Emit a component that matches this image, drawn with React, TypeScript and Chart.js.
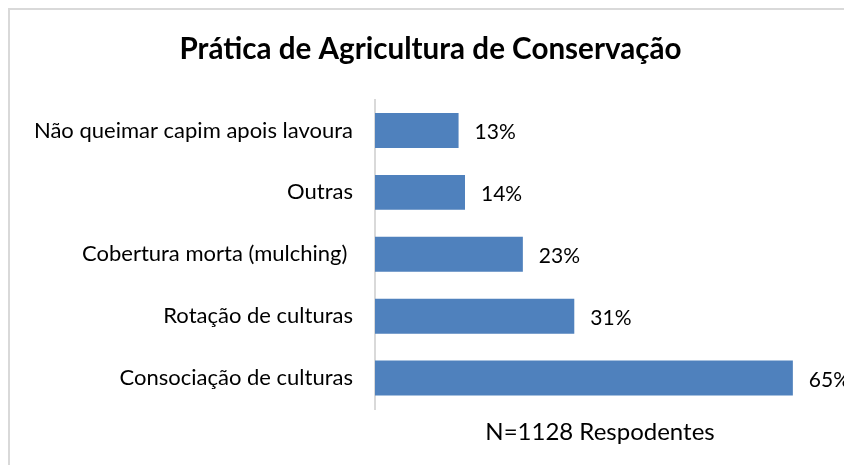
import React, { useEffect, useRef } from "react";
import { Chart, registerables } from "chart.js";

Chart.register(...registerables);

const categories = [
  "Não queimar capim apois lavoura",
  "Outras",
  "Cobertura morta (mulching) ",
  "Rotação de culturas",
  "Consociação de culturas",
];
const values = [13, 14, 23, 31, 65];
const titleText = "Prática de Agricultura de Conservação";
const xTitle = "N=1128 Respodentes";

const FONT = "Lato, 'Open Sans', sans-serif";

const valueLabels = {
  id: "valueLabels",
  afterDatasetsDraw(chart: any) {
    const ctx = chart.ctx;
    const meta = chart.getDatasetMeta(0);
    ctx.save();
    ctx.font = `21px ${FONT}`;
    ctx.fillStyle = "#000";
    ctx.textAlign = "left";
    ctx.textBaseline = "middle";
    meta.data.forEach((bar: any, i: number) => {
      ctx.fillText(values[i] + "%", bar.x + 16, bar.y + 2);
    });
    ctx.restore();
  },
};

export default function App() {
  const ref = useRef<HTMLCanvasElement>(null);
  useEffect(() => {
    document.documentElement.style.overflow = "hidden";
    document.body.style.margin = "0";
    if (!ref.current) return;
    const chart = new Chart(ref.current, {
      type: "bar",
      data: {
        labels: categories,
        datasets: [
          {
            data: values,
            backgroundColor: "#4F81BD",
            barPercentage: 0.565,
            categoryPercentage: 1,
          },
        ],
      },
      options: {
        indexAxis: "y",
        animation: false,
        responsive: false,
        layout: { padding: { left: 0, right: 5, top: 0, bottom: 0 } },
        plugins: {
          legend: { display: false },
          tooltip: { enabled: false },
          title: {
            display: true,
            text: titleText,
            color: "#000",
            font: { family: FONT, size: 29.6, weight: "bold" },
            padding: { top: 22, bottom: 32 },
          },
        },
        scales: {
          x: {
            min: 0,
            max: 70,
            ticks: { display: false },
            grid: { display: false, drawTicks: false },
            border: { display: false },
            title: {
              display: true,
              text: xTitle,
              color: "#000",
              font: { family: FONT, size: 24 },
              padding: { top: 8.6, bottom: 18.6 },
            },
          },
          y: {
            grid: { display: false, drawTicks: false },
            border: { display: true, color: "#d9d9d9", width: 2 },
            ticks: {
              color: "#000",
              font: { family: FONT, size: 22 },
              padding: 22,
            },
            afterFit(scale: any) {
              scale.width = 365;
            },
          },
          yRight: {
            type: "category",
            position: "right",
            labels: categories,
            grid: { display: false, drawTicks: false },
            border: { display: false },
            ticks: { display: false },
            afterFit(scale: any) {
              scale.width = 26;
            },
          },
        },
      },
      plugins: [valueLabels],
    });
    return () => chart.destroy();
  }, []);
  return (
    <div style={{ width: 844, height: 473, overflow: "hidden", background: "#fff" }}>
      <div
        style={{
          marginLeft: 8,
          marginTop: 8,
          width: 848,
          height: 457,
          boxSizing: "border-box",
          borderTop: "2px solid #d9d9d9",
          borderLeft: "2px solid #d9d9d9",
          background: "#fff",
          display: "inline-block",
          verticalAlign: "top",
        }}
      >
        <canvas ref={ref} width={846} height={455} style={{ display: "block" }} />
      </div>
    </div>
  );
}
